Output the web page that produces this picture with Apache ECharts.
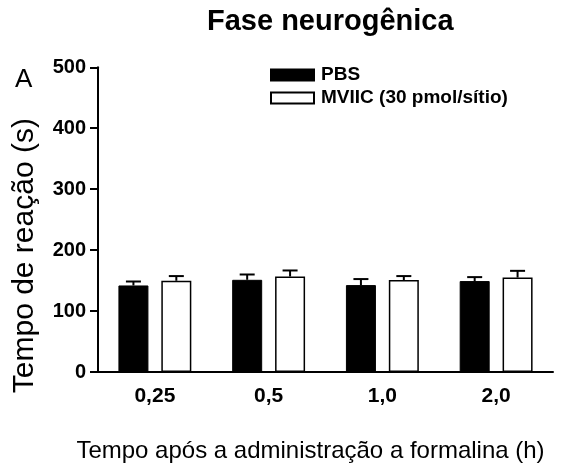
<!DOCTYPE html>
<html>
<head>
<meta charset="utf-8">
<script src="https://cdn.jsdelivr.net/npm/echarts@6/dist/echarts.min.js"></script>
<style>html,body{margin:0;padding:0;background:#fff}#c{width:561px;height:469px}</style>
</head>
<body>
<div id="c"></div>
<script>
const categories = ['0,25', '0,5', '1,0', '2,0'];
const pbsMean = [142, 151.3, 142.6, 149.2];
const pbsSem = [6.5, 8.7, 9.9, 6.5];
const mviicMean = [149.7, 156.7, 150.8, 155];
const mviicSem = [7.7, 9.9, 6.6, 11];
const yTicks = [0, 100, 200, 300, 400, 500];

const FONT = '"Liberation Sans", Arial, sans-serif';
const BAR_WIDTH = 30;
const BAR_GAP = 0.43;
const OFFSET = BAR_WIDTH * (1 + BAR_GAP) / 2;

function errSeries(name, mean, sem, dir) {
  return {
    type: 'custom',
    name: name + ' err',
    z: 5,
    silent: true,
    data: mean.map((m, i) => [i, m, sem[i]]),
    renderItem: function (params, api) {
      const idx = api.value(0), m = api.value(1), s = api.value(2);
      const base = api.coord([idx, m]);
      const top = api.coord([idx, m + s]);
      const x = base[0] + dir * OFFSET;
      const cap = 7.5;
      return {
        type: 'group',
        children: [
          { type: 'line', shape: { x1: x, y1: base[1], x2: x, y2: top[1] }, style: { stroke: '#000', lineWidth: 2 } },
          { type: 'line', shape: { x1: x - cap, y1: top[1], x2: x + cap, y2: top[1] }, style: { stroke: '#000', lineWidth: 2 } }
        ]
      };
    }
  };
}

const chart = echarts.init(document.getElementById('c'), null, { renderer: 'canvas' });
chart.setOption({
  animation: false,
  backgroundColor: '#fff',
  textStyle: { fontFamily: FONT, color: '#000' },
  title: {
    text: 'Fase neurogênica',
    left: 207, top: 7, padding: 0,
    textStyle: { fontFamily: FONT, fontSize: 29, fontWeight: 'bold', color: '#000' }
  },
  graphic: [{
    type: 'text', left: 15, top: 67,
    style: { text: 'A', fontFamily: FONT, fontSize: 26, fill: '#000' }
  }],
  legend: {
    orient: 'vertical', left: 270, top: 65.5, padding: 0,
    itemWidth: 43, itemHeight: 11, itemGap: 4,
    icon: 'rect',
    textStyle: { fontFamily: FONT, fontSize: 19, fontWeight: 'bold', color: '#000', lineHeight: 19, padding: [0, 0, 0, 2] },
    data: ['PBS', 'MVIIC (30 pmol/sítio)']
  },
  grid: { left: 98, right: 8, top: 67.3, bottom: 97, containLabel: false },
  xAxis: {
    type: 'category',
    data: categories,
    axisLine: { lineStyle: { color: '#000', width: 2 } },
    axisTick: { show: false },
    axisLabel: { fontFamily: FONT, fontSize: 21, fontWeight: 'bold', color: '#000', margin: 14 },
    name: 'Tempo após a administração a formalina (h)',
    nameLocation: 'middle', nameGap: 67,
    nameTextStyle: { fontFamily: FONT, fontSize: 24, color: '#000', padding: [0, 30, 0, 0] }
  },
  yAxis: {
    type: 'value', min: yTicks[0], max: yTicks[yTicks.length - 1], interval: 100,
    splitLine: { show: false },
    axisLine: { show: true, lineStyle: { color: '#000', width: 2 } },
    axisTick: { show: true, length: 8, lineStyle: { color: '#000', width: 2 } },
    axisLabel: { fontFamily: FONT, fontSize: 20, fontWeight: 'bold', color: '#000', margin: 12 },
    name: 'Tempo de reação (s)',
    nameLocation: 'middle', nameGap: 58,
    nameTextStyle: { fontFamily: FONT, fontSize: 30, color: '#000', padding: [0, 72, 0, 0] }
  },
  series: [
    {
      type: 'bar', name: 'PBS', data: pbsMean,
      barWidth: BAR_WIDTH, barGap: (BAR_GAP * 100) + '%',
      itemStyle: { color: '#000', borderColor: '#000', borderWidth: 1 }
    },
    {
      type: 'bar', name: 'MVIIC (30 pmol/sítio)', data: mviicMean,
      barWidth: BAR_WIDTH,
      itemStyle: { color: '#fff', borderColor: '#000', borderWidth: 1.5 }
    },
    errSeries('PBS', pbsMean, pbsSem, -1),
    errSeries('MVIIC', mviicMean, mviicSem, 1)
  ]
});
</script>
</body>
</html>
